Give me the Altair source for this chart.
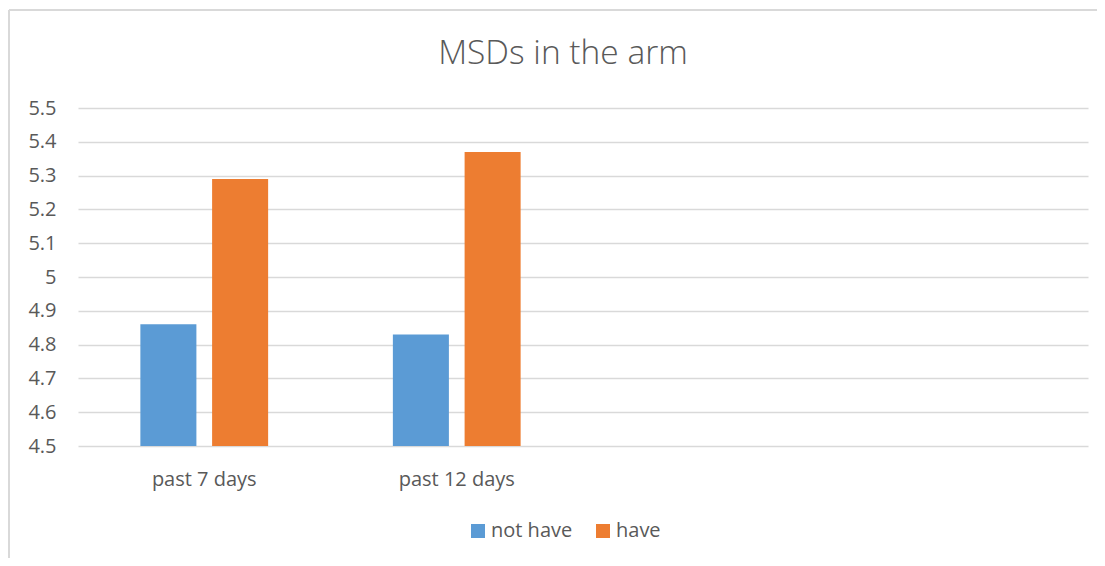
import altair as alt
import pandas as pd

# ---- data ----
categories = ["past 7 days", "past 12 days"]
empty_slots = [" ", "  "]          # two empty category slots on the axis
series = ["not have", "have"]
not_have = [4.86, 4.83]
have = [5.29, 5.37]
y_ticks = [4.5, 4.6, 4.7, 4.8, 4.9, 5.0, 5.1, 5.2, 5.3, 5.4, 5.5]
y_base = 4.5
colors = ["#5B9BD5", "#ED7D31"]

rows = []
for i, c in enumerate(categories):
    rows.append({"period": c, "group": series[0], "value": not_have[i]})
    rows.append({"period": c, "group": series[1], "value": have[i]})
df = pd.DataFrame(rows)

TXT = "#595959"
FONT = "Open Sans"
W, H = 1010, 338

bars = alt.Chart(df).mark_bar().encode(
    x=alt.X(
        "period:N",
        sort=None,
        scale=alt.Scale(domain=categories + empty_slots, paddingInner=0.494, paddingOuter=0.247),
        axis=alt.Axis(title=None, ticks=False, domain=False, labelAngle=0, labelFontSize=20,
                      labelColor=TXT, labelFont=FONT, labelPadding=39, labelBaseline="alphabetic"),
    ),
    xOffset=alt.XOffset("group:N", sort=series,
                        scale=alt.Scale(domain=series, paddingInner=0.219, paddingOuter=0)),
    y=alt.Y(
        "value:Q",
        scale=alt.Scale(domain=[4.5, 5.5], zero=False, nice=False),
        axis=alt.Axis(title=None, values=y_ticks, format=".1~f", ticks=False, domain=False,
                      labelFontSize=20, labelColor=TXT, labelFont=FONT, labelPadding=22,
                      gridColor="#D9D9D9", gridWidth=1.5),
    ),
    y2=alt.datum(y_base),
    color=alt.Color(
        "group:N",
        sort=series,
        scale=alt.Scale(domain=series, range=colors),
        legend=alt.Legend(title=None, orient="none", legendX=390, legendY=413,
                          direction="horizontal", symbolType="square", symbolSize=196,
                          symbolStrokeWidth=0, labelFontSize=20, labelColor=TXT, labelFont=FONT,
                          labelOffset=3, columnPadding=20, padding=0),
    ),
)

frame_df = pd.DataFrame({"k": [0]})
left_border = alt.Chart(frame_df).mark_rule(color="#D9D9D9", strokeWidth=2).encode(
    x=alt.value(-69), y=alt.value(-98), y2=alt.value(H + 112)
)
top_border = alt.Chart(frame_df).mark_rule(color="#D9D9D9", strokeWidth=2).encode(
    x=alt.value(-69), x2=alt.value(W + 9), y=alt.value(-98)
)

chart = alt.layer(bars, left_border, top_border).properties(
    width=W,
    height=H,
    title=alt.TitleParams("MSDs in the arm", fontSize=33.5, font=FONT, fontWeight=300, color=TXT,
                          anchor="middle", dx=-20, dy=88, offset=0, baseline="alphabetic"),
    autosize=alt.AutoSizeParams(type="none"),
    padding={"left": 70, "top": 100, "right": 9, "bottom": 112},
).configure(font=FONT).configure_view(stroke=None)

chart.save("out.html", embed_options={"renderer": "svg", "actions": False})
